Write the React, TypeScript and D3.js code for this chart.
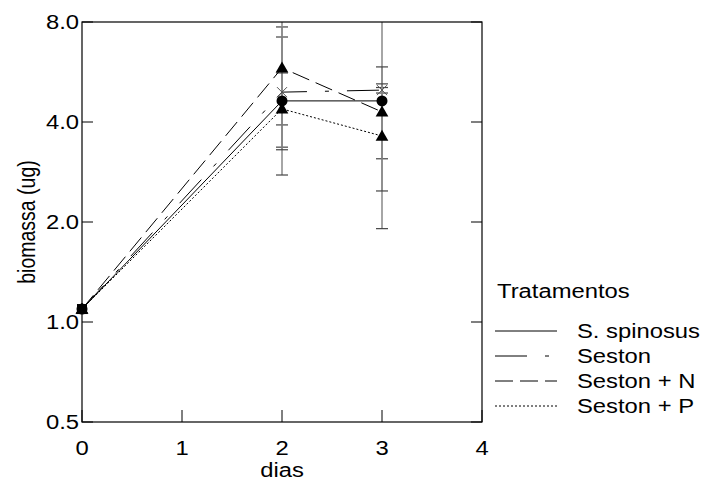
import React from "react";
import * as d3 from "d3";

const days = [0, 2, 3];
const seriesNames = ["S. spinosus", "Seston", "Seston + N", "Seston + P"];
const sSpinosus = [1.094, 4.63, 4.63];
const seston = [1.094, 4.92, 4.99];
const sestonN = [1.094, 5.82, 4.29];
const sestonP = [1.094, 4.38, 3.63];
const sSpinosusLo = [1.094, 2.77, 1.91];
const sSpinosusHi = [1.094, 7.73, 10];
const sestonLo = [1.094, 3.36, 4.89];
const sestonHi = [1.094, 7.21, 5.08];
const sestonNLo = [1.094, 3.92, 3.1];
const sestonNHi = [1.094, 10, 5.86];
const sestonPLo = [1.094, 3.3, 2.48];
const sestonPHi = [1.094, 5.62, 5.21];
const yTicks = [0.5, 1, 2, 4, 8];
const xTicks = [0, 1, 2, 3, 4];

const W = 705, H = 483;
const L = 82, R = 482, T = 22, B = 422;
const FONT = "'Liberation Sans', Arial, sans-serif";
const FS = 20;
const SX = 1.19;

function Txt({ x, y, anchor = "start", children }: { x: number; y: number; anchor?: string; children: React.ReactNode }) {
  return (
    <text transform={`translate(${x},${y}) scale(${SX},1)`} textAnchor={anchor} fontSize={FS} fill="#000">
      {children}
    </text>
  );
}

export default function App() {
  const x = d3.scaleLinear().domain([0, 4]).range([L, R]);
  const y = d3.scaleLog().base(2).domain([0.5, 8]).range([B, T]);

  const series = [
    { name: seriesNames[0], v: sSpinosus, lo: sSpinosusLo, hi: sSpinosusHi, dash: "none", marker: "circle" },
    { name: seriesNames[1], v: seston, lo: sestonLo, hi: sestonHi, dash: "32,18,4,18", marker: "x" },
    { name: seriesNames[2], v: sestonN, lo: sestonNLo, hi: sestonNHi, dash: "18,7", marker: "tri" },
    { name: seriesNames[3], v: sestonP, lo: sestonPLo, hi: sestonPHi, dash: "2,2", marker: "tri" },
  ];

  const line = d3.line<number>().x((_, i) => x(days[i])).y((d) => y(d));
  const tri = d3.symbol().type(d3.symbolTriangle).size(70)();

  const renderMarker = (m: string, cx: number, cy: number, key: string) => {
    if (m === "circle") return <circle key={key} cx={cx} cy={cy} r={5.5} fill="#000" />;
    if (m === "tri") return <path key={key} d={tri as string} transform={`translate(${cx},${cy + 1})`} fill="#000" />;
    return (
      <g key={key} stroke="#555" strokeWidth={1}>
        <line x1={cx - 5} y1={cy - 5} x2={cx + 5} y2={cy + 5} />
        <line x1={cx - 5} y1={cy + 5} x2={cx + 5} y2={cy - 5} />
      </g>
    );
  };

  const legendY = [331, 356, 381, 406];

  return (
    <svg width={W} height={H} style={{ position: "absolute", left: 0, top: 0, background: "#fff" }} fontFamily={FONT}>
      <defs>
        <clipPath id="plotclip">
          <rect x={L} y={T} width={R - L} height={B - T} />
        </clipPath>
      </defs>
      <rect x={0} y={0} width={W} height={H} fill="#fff" />
      <g clipPath="url(#plotclip)">
        {series.map((s, si) =>
          days.map((d, i) =>
            i === 0 ? null : (
              <g key={`e${si}-${i}`}>
                <line x1={x(d)} x2={x(d)} y1={y(s.lo[i])} y2={y(Math.min(s.hi[i], 8.5))} stroke="#888" strokeWidth={1.5} />
                {s.lo[i] < 8 && <line x1={x(d) - 6} x2={x(d) + 6} y1={y(s.lo[i])} y2={y(s.lo[i])} stroke="#444" strokeWidth={1.2} />}
                {s.hi[i] < 8 && <line x1={x(d) - 6} x2={x(d) + 6} y1={y(s.hi[i])} y2={y(s.hi[i])} stroke="#444" strokeWidth={1.2} />}
              </g>
            )
          )
        )}
      </g>
      {series.map((s, si) => (
        <path key={`l${si}`} d={line(s.v) as string} fill="none" stroke="#000" strokeWidth={1} strokeDasharray={s.dash} />
      ))}
      {series.map((s, si) => s.v.map((v, i) => renderMarker(s.marker, x(days[i]), y(v), `m${si}-${i}`)))}
      <rect x={x(0) - 5} y={y(1.094) - 5} width={10} height={10} fill="#000" />
      <rect x={L} y={T} width={R - L} height={B - T} fill="none" stroke="#000" strokeWidth={1.2} />
      {yTicks.map((t) => (
        <g key={`yt${t}`}>
          <line x1={L} x2={L + 11} y1={y(t)} y2={y(t)} stroke="#000" />
          <line x1={R} x2={R - 11} y1={y(t)} y2={y(t)} stroke="#000" />
          <Txt x={L - 3} y={y(t) + 7} anchor="end">{t.toFixed(1)}</Txt>
        </g>
      ))}
      {xTicks.map((t) => (
        <g key={`xt${t}`}>
          <line x1={x(t)} x2={x(t)} y1={B} y2={B - 12} stroke="#000" />
          <Txt x={x(t)} y={455} anchor="middle">{t}</Txt>
        </g>
      ))}
      <Txt x={(L + R) / 2} y={477} anchor="middle">dias</Txt>
      <text transform={`translate(35,${(T + B) / 2}) scale(${SX},1) rotate(-90)`} textAnchor="middle" fontSize={19.5} fill="#000">
        biomassa (ug)
      </text>
      <Txt x={497} y={298}>Tratamentos</Txt>
      {series.map((s, si) => (
        <g key={`lg${si}`}>
          <line x1={495} x2={557} y1={legendY[si]} y2={legendY[si]} stroke="#000" strokeWidth={1} strokeDasharray={s.dash} />
          <Txt x={577} y={legendY[si] + 7}>{s.name}</Txt>
        </g>
      ))}
    </svg>
  );
}
